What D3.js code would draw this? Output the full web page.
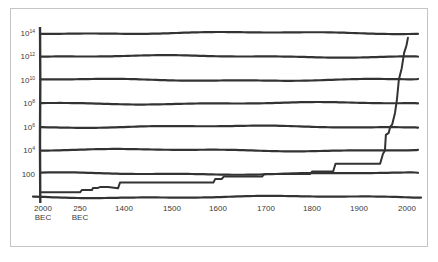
<!DOCTYPE html>
<html>
<head>
<meta charset="utf-8">
<script src="https://cdn.jsdelivr.net/npm/d3@7"></script>
<style>
  body { margin: 0; background: #fff; }
  text { font-family: "Liberation Sans", Arial, sans-serif; fill: #3a3a3a; }
</style>
</head>
<body>
<div id="chart"></div>
<script>
// x ticks (years, negative = BEC) and their labels
var xTickYears = [-2000, -250, 1400, 1500, 1600, 1700, 1800, 1900, 2000];
var xTickLabels = [["2000", "BEC"], ["250", "BEC"], ["1400"], ["1500"], ["1600"], ["1700"], ["1800"], ["1900"], ["2000"]];
// hand-drawn spacing of the ticks along the axis
var xTickPos = [43, 80, 124, 172, 218, 266, 312, 359, 407];

// y gridlines (log scale)
var yGrid = [1e14, 1e12, 1e10, 1e8, 1e6, 1e4, 100, 1];

// the curve
var lineYears  = [-2060, -250, -175, 200, 237, 425, 500, 800, 1175, 1250, 1590, 1594, 1608, 1612, 1692, 1696, 1796, 1800, 1845, 1850, 1944, 1950, 1954, 1956, 1962, 1965, 1969, 1975, 1979, 1983, 1989, 1994, 1999, 2002];
var lineValues = [2.5, 2.5, 4, 4, 6, 6, 7, 7, 5.5, 17, 17, 35, 35, 56, 56, 92, 92, 150, 150, 700, 700, 5000, 9000, 2e5, 3e5, 1e6, 1.5e6, 1.5e7, 2e8, 1e10, 1e11, 2e12, 9e12, 4e13];

var W = 438, H = 262;
var svg = d3.select("#chart").append("svg")
    .attr("width", W)
    .attr("height", H);

// outer frame
svg.append("rect")
    .attr("x", 10.5).attr("y", 8.5)
    .attr("width", 417).attr("height", 238)
    .attr("fill", "none")
    .attr("stroke", "#c4c4c4")
    .attr("stroke-width", 1);

var x = d3.scaleLinear().domain(xTickYears).range(xTickPos);
var y = d3.scaleLog().domain([1, 1e14]).range([197, 33]);

var pen = "#333";

// wobbly gridlines
var wob = d3.line().curve(d3.curveBasis);
yGrid.forEach(function(v, i) {
    var x0 = (v === 1) ? 33 : 40;
    var x1 = (v === 1) ? 421 : 418;
    var pts = [];
    for (var px = x0; px <= x1; px += 8) {
        var off = 0.9 * Math.sin(px / 55 + i * 1.7) + 0.4 * Math.sin(px / 19 + i * 2.3);
        pts.push([px, y(v) + off]);
    }
    pts.push([x1, y(v) + 0.9 * Math.sin(x1 / 55 + i * 1.7)]);
    svg.append("path")
        .attr("class", "grid")
        .attr("d", wob(pts))
        .attr("fill", "none")
        .attr("stroke", pen)
        .attr("stroke-width", 2.2)
        .attr("stroke-linecap", "round");
});

// y axis
svg.append("path")
    .attr("d", wob([[40, 27], [40.5, 80], [39.8, 140], [40.3, 203]]))
    .attr("fill", "none")
    .attr("stroke", pen)
    .attr("stroke-width", 2.4);

// y labels
yGrid.forEach(function(v) {
    if (v === 1) return;
    var t = svg.append("text")
        .attr("x", 35)
        .attr("y", y(v) + 3)
        .attr("text-anchor", "end")
        .style("font-size", "8px");
    if (v === 100) {
        t.text("100");
    } else {
        t.append("tspan").text("10");
        t.append("tspan")
            .attr("dy", -3)
            .style("font-size", "5px")
            .text(Math.round(Math.log10(v)));
    }
});

// x labels, one text per line
xTickYears.forEach(function(yr, i) {
    xTickLabels[i].forEach(function(s, j) {
        svg.append("text")
            .attr("x", x(yr))
            .attr("y", 211 + j * 9)
            .attr("text-anchor", "middle")
            .style("font-size", "8px")
            .text(s);
    });
});

// the data line
var line = d3.line()
    .x(function(d) { return x(d[0]); })
    .y(function(d) { return y(d[1]); });

svg.append("path")
    .datum(d3.zip(lineYears, lineValues))
    .attr("d", line)
    .attr("fill", "none")
    .attr("stroke", pen)
    .attr("stroke-width", 2)
    .attr("stroke-linejoin", "round")
    .attr("stroke-linecap", "round");
</script>
</body>
</html>
